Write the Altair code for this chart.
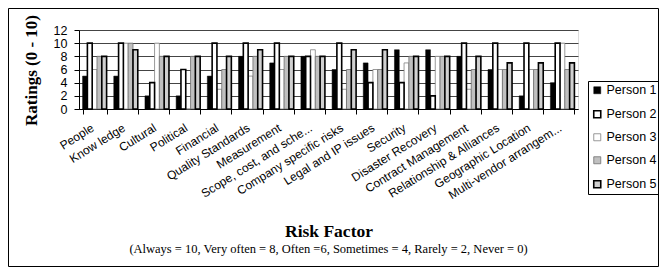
import altair as alt
import pandas as pd

categories = [
    "People", "Know ledge", "Cultural", "Political", "Financial",
    "Quality Standards", "Measurement", "Scope, cost, and sche...",
    "Company specific risks", "Legal and IP issues", "Security",
    "Disaster Recovery", "Contract Management", "Relationship & Alliances",
    "Geographic Location", "Multi-vendor arrangem...",
]
persons = ["Person 1", "Person 2", "Person 3", "Person 4", "Person 5"]

person1 = [5, 5, 2, 2, 5, 8, 7, 8, 6, 7, 9, 9, 8, 6, 2, 4]
person2 = [10, 10, 4, 6, 10, 10, 10, 8, 10, 4, 4, 2, 10, 10, 10, 10]
person3 = [6, 10, 10, 0, 3, 5, 6, 9, 3, 6, 7, 8, 3, 6, 6, 10]
person4 = [8, 10, 8, 8, 6, 8, 8, 8, 6, 6, 8, 8, 6, 6, 6, 6]
person5 = [8, 9, 8, 8, 8, 9, 8, 8, 9, 9, 8, 8, 8, 7, 7, 7]

y_ticks = [0, 2, 4, 6, 8, 10, 12]

series = dict(zip(persons, [person1, person2, person3, person4, person5]))
draw_order = ["Person 1", "Person 3", "Person 4", "Person 2", "Person 5"]
rows = []
for p in draw_order:
    for c, v in zip(categories, series[p]):
        rows.append({"factor": c, "person": p, "rating": v})
df = pd.DataFrame(rows)

fills = ["#000000", "#ffffff", "#ffffff", "#c0c0c0", "#d0d0d0"]
strokes = ["#000000", "#000000", "#808080", "#707070", "#000000"]
widths = [0.5, 1.6, 0.8, 0.8, 1.6]

legend = alt.Legend(
    title=None, orient="none", legendX=509, legendY=51,
    strokeColor="black", padding=3, symbolType="square", symbolSize=49,
    labelFont="Liberation Sans", labelFontSize=12.5, labelColor="black",
    rowPadding=10, labelOffset=3,
)

bars = alt.Chart(df).mark_bar().encode(
    x=alt.X(
        "factor:N", sort=categories,
        scale=alt.Scale(paddingInner=0.23, paddingOuter=0.115),
        axis=alt.Axis(
            title="Risk Factor", labelAngle=-32, labelFont="Liberation Sans",
            labelFontSize=12, labelColor="black", tickBand="extent",
            tickSize=5, tickColor="black", domainColor="black", labelPadding=8,
            labelOffset=-5,
            titleFont="Liberation Serif", titleFontSize=17.5, titleFontWeight="bold",
            titleColor="black", titleY=127, titleBaseline="alphabetic", grid=False,
        ),
    ),
    xOffset=alt.XOffset("person:N", sort=persons,
                        scale=alt.Scale(paddingInner=0, paddingOuter=0)),
    y=alt.Y(
        "rating:Q", scale=alt.Scale(domain=[0, 12], nice=False),
        axis=alt.Axis(
            title="Ratings (0 - 10)", values=y_ticks, labelFont="Liberation Sans",
            labelFontSize=12.5, labelColor="black", tickSize=5, tickColor="black",
            domainColor="black", labelPadding=7, gridColor="#444444", gridWidth=1,
            titleFont="Liberation Serif", titleFontSize=17, titleFontWeight="bold",
            titleColor="black", titleX=-39, titleY=40, titleBaseline="bottom",
        ),
    ),
    fill=alt.Fill("person:N", scale=alt.Scale(domain=persons, range=fills), legend=legend),
    stroke=alt.Stroke("person:N", scale=alt.Scale(domain=persons, range=strokes), legend=legend),
    strokeWidth=alt.StrokeWidth(
        "person:N", scale=alt.Scale(type="ordinal", domain=persons, range=widths),
        legend=legend,
    ),
)

frame = alt.Chart(pd.DataFrame({"f": [0]})).mark_rect(
    fillOpacity=0, stroke="black", strokeWidth=1
).encode(
    x=alt.value(-70.5), x2=alt.value(579.5), y=alt.value(-21.5), y2=alt.value(236.5)
)

chart = alt.layer(bars, frame).properties(
    width=499, height=79,
    autosize=alt.AutoSizeParams(type="none"),
    padding={"left": 71, "top": 22, "right": 81, "bottom": 158},
    title=alt.TitleParams(
        text="(Always = 10, Very often = 8, Often =6, Sometimes = 4, Rarely = 2, Never = 0)",
        orient="bottom", anchor="middle", font="Liberation Serif", fontSize=12.5,
        fontWeight="normal", color="black", offset=-24,
    ),
).configure_view(stroke="#888888", strokeWidth=1).configure(background="white")

chart.save("out.html", embed_options={"renderer": "svg", "actions": False})
